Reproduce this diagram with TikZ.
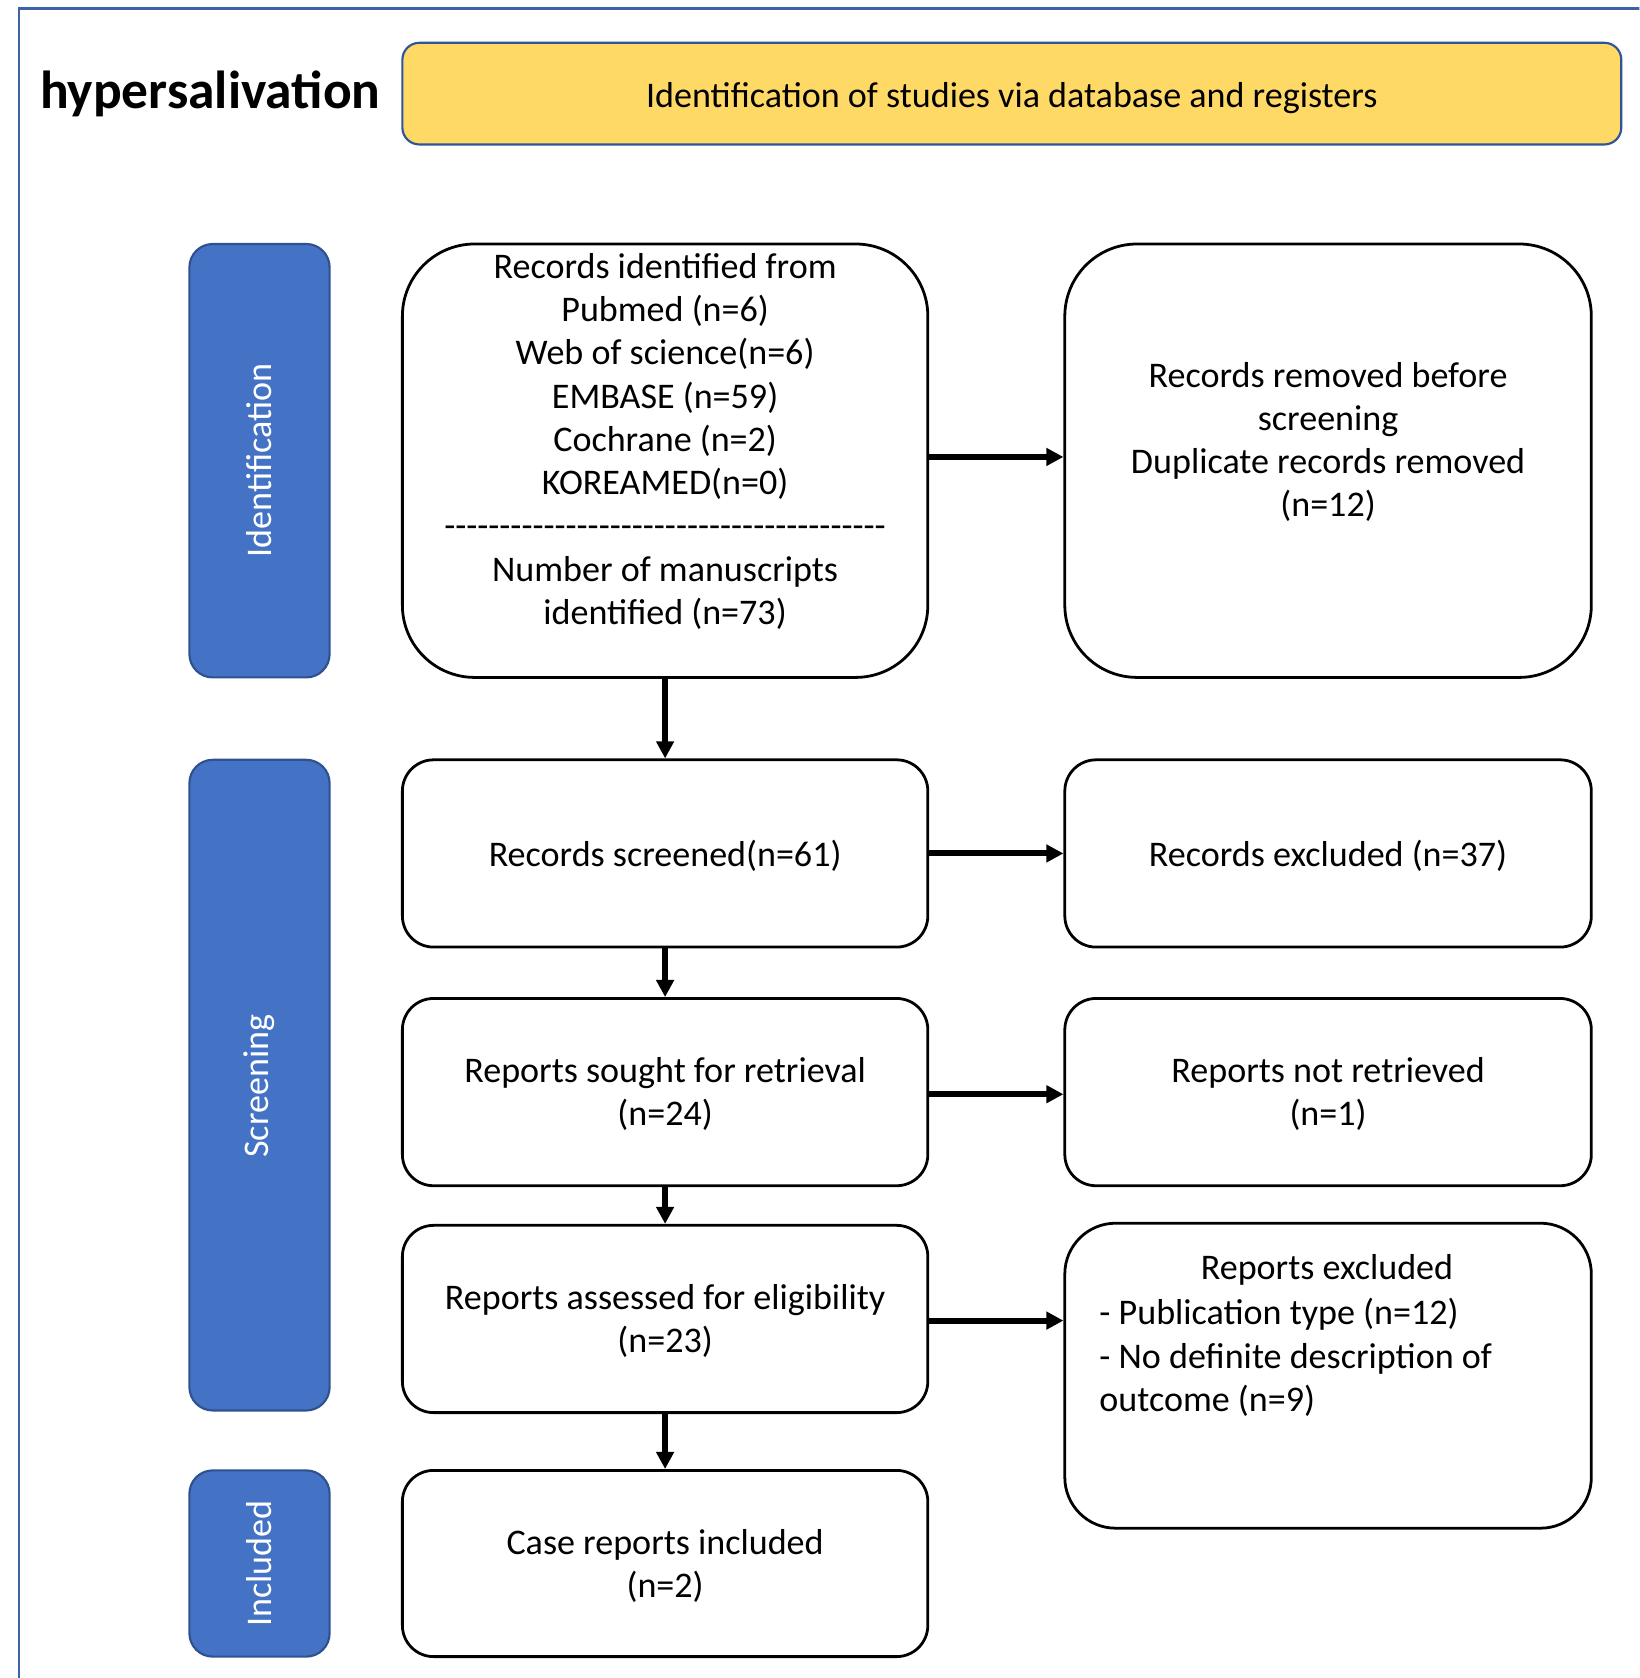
\documentclass[tikz,border=0pt]{standalone}
\usepackage{fontspec}
\setmainfont{Carlito}
\usetikzlibrary{arrows.meta}
\definecolor{sideblue}{HTML}{4472C4}
\definecolor{sideedge}{HTML}{2F528F}
\definecolor{headyellow}{HTML}{FFD966}
\definecolor{headedge}{HTML}{2F5597}
\definecolor{frameblue}{HTML}{3D62A6}
\newcommand\hy{-\kern0pt}
\newcommand\hyten{\hy\hy\hy\hy\hy\hy\hy\hy\hy\hy}
\begin{document}
\begin{tikzpicture}[
  bodyfont/.style={font=\fontsize{16.85}{20.2}\selectfont},
  txt/.style={bodyfont, align=center, inner sep=0pt},
  pbox/.style={draw, line width=1.3pt, fill=white, rounded corners=#1, inner sep=0pt},
  side/.style={draw=sideedge, line width=1pt, fill=sideblue, rounded corners=#1, minimum width=65.5pt, inner sep=0pt},
  sidetxt/.style={bodyfont, text=white, rotate=90, inner sep=0pt},
  arr/.style={line width=2.8pt, -{Triangle[length=8pt,width=8pt]}},
]
\useasboundingbox (0,0) rectangle (766pt,-784pt);
\begin{scope}
\clip (0,0) rectangle (766pt,-784pt);
\draw[frameblue, line width=1.1pt] (8.9pt,-800pt) -- (8.9pt,-3.9pt) -- (800pt,-3.9pt);
\end{scope}

% title and header
\node[anchor=base west, inner sep=0pt, font=\fontsize{25}{29}\selectfont\bfseries] (title) at (18.5pt,-50.5pt) {hypersalivation};
\node[draw=headedge, line width=1pt, fill=headyellow, rounded corners=7.9pt, minimum width=569.5pt, minimum height=47.5pt, inner sep=0pt] (head) at (472.75pt,-43.75pt) {};
\node[txt] (headt) at ([yshift=-2pt]head.center) {Identification of studies via database and registers};

% side labels
\node[side=10.9pt, minimum height=202.5pt] (sid) at (121.25pt,-215.25pt) {};
\node[sidetxt] (sidt) at (sid.center) {Identification};
\node[side=10.9pt, minimum height=304pt] (sscr) at (121.25pt,-507pt) {};
\node[sidetxt] (sscrt) at ([yshift=-0.5pt]sscr.center) {Screening};
\node[side=10.9pt, minimum height=87pt] (sinc) at (121.25pt,-730.5pt) {};
\node[sidetxt] (sinct) at (sinc.center) {Included};

% left column
\node[pbox=33.75pt, minimum width=245.5pt, minimum height=202.5pt] (b1) at (310.75pt,-215.25pt) {};
\node[txt] (b1t) at (310.75pt,-206.25pt) {Records identified from\\ Pubmed (n=6)\\ Web of science(n=6)\\ EMBASE (n=59)\\ Cochrane (n=2)\\ KOREAMED(n=0)\\ \hyten\hyten\hyten\hyten\\ Number of manuscripts\\ identified (n=73)};
\node[pbox=14.6pt, minimum width=245.5pt, minimum height=87.5pt] (b2) at (310.75pt,-398.75pt) {};
\node[txt] (b2t) at ([yshift=-1pt]b2.center) {Records screened(n=61)};
\node[pbox=14.6pt, minimum width=245.5pt, minimum height=87.5pt] (b3) at (310.75pt,-510.25pt) {};
\node[txt] (b3t) at ([yshift=-1pt]b3.center) {Reports sought for retrieval\\ (n=24)};
\node[pbox=14.6pt, minimum width=245.5pt, minimum height=87.5pt] (b4) at (310.75pt,-616.25pt) {};
\node[txt] (b4t) at ([yshift=-1pt]b4.center) {Reports assessed for eligibility\\ (n=23)};
\node[pbox=14.6pt, minimum width=245.5pt, minimum height=87pt] (b5) at (310.75pt,-730.5pt) {};
\node[txt] (b5t) at ([yshift=-1pt]b5.center) {Case reports included\\ (n=2)};

% right column
\node[pbox=33.75pt, minimum width=246pt, minimum height=202.5pt] (r1) at (620.5pt,-215.25pt) {};
\node[txt] (r1t) at (620.5pt,-206.5pt) {Records removed before\\ screening\\ Duplicate records removed\\ (n=12)};
\node[pbox=14.6pt, minimum width=246pt, minimum height=87.5pt] (r2) at (620.5pt,-398.75pt) {};
\node[txt] (r2t) at ([yshift=-1pt]r2.center) {Records excluded (n=37)};
\node[pbox=14.6pt, minimum width=246pt, minimum height=87.5pt] (r3) at (620.5pt,-510.25pt) {};
\node[txt] (r3t) at ([yshift=-1pt]r3.center) {Reports not retrieved\\ (n=1)};
\node[pbox=23.75pt, minimum width=246pt, minimum height=142.5pt] (r4) at (620.5pt,-642.75pt) {};
\node[txt] (r4h) at (620pt,-593.5pt) {Reports excluded};
\node[txt, align=left, anchor=west] (r4t) at (513.5pt,-634.25pt) {- Publication type (n=12)\\ - No definite description of\\ outcome (n=9)};

% connectors
\draw[arr] ([yshift=1.75pt]b1.east) -- ([yshift=1.75pt]r1.west);
\draw[arr] (b2.east) -- (r2.west);
\draw[arr] ([yshift=-1pt]b3.east) -- ([yshift=-1pt]r3.west);
\draw[arr] ([yshift=-0.75pt]b4.east) -- ([yshift=-0.75pt]b4.east -| r4.west);
\draw[arr] (b1.south) -- (b2.north);
\draw[arr] (b2.south) -- (b3.north);
\draw[arr] (b3.south) -- (b4.north);
\draw[arr] (b4.south) -- (b5.north);
\end{tikzpicture}
\end{document}
